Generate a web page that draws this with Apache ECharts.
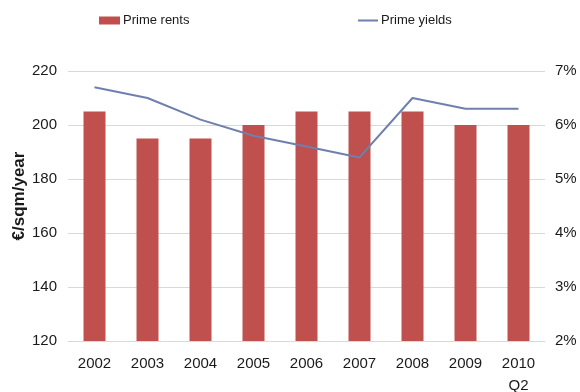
<!DOCTYPE html>
<html>
<head>
<meta charset="utf-8">
<script src="https://cdn.jsdelivr.net/npm/echarts@6/dist/echarts.min.js"></script>
<style>
  html, body { margin: 0; padding: 0; background: #fff; }
  #chart { width: 580px; height: 392px; }
</style>
</head>
<body>
<div id="chart"></div>
<script>
// Years on the category axis (last one is a half-year reading)
const years = ['2002', '2003', '2004', '2005', '2006', '2007', '2008', '2009', '2010\nQ2'];
// Prime rents, €/sqm/year
const primeRents = [205, 195, 195, 200, 205, 205, 205, 200, 200];
// Prime yields, %
const primeYields = [6.7, 6.5, 6.1, 5.8, 5.6, 5.4, 6.5, 6.3, 6.3];

const FONT = 'Liberation Sans, Arial, sans-serif';
const BAR_COLOR = '#c0504d';
const LINE_COLOR = '#6f7fae';
const chart = echarts.init(document.getElementById('chart'), null, { renderer: 'canvas' });

const legendText = { fontFamily: FONT, fontSize: 13, color: '#1a1a1a', padding: [0, 0, 0, -2] };

chart.setOption({
  animation: false,
  backgroundColor: '#ffffff',
  textStyle: { fontFamily: FONT },
  legend: [
    {
      left: 94,
      top: 9,
      itemWidth: 21,
      itemHeight: 8,
      textStyle: legendText,
      data: [{ name: 'Prime rents', icon: 'rect' }]
    },
    {
      left: 353,
      top: 9,
      itemWidth: 20,
      itemHeight: 2,
      textStyle: legendText,
      data: [{ name: 'Prime yields', icon: 'rect', itemStyle: { color: LINE_COLOR } }]
    }
  ],
  grid: { left: 68, right: 35, top: 71, bottom: 51, containLabel: false, outerBoundsMode: 'none' },
  xAxis: {
    type: 'category',
    data: years,
    axisLine: { show: true, lineStyle: { color: '#d9d9d9', width: 1 } },
    axisTick: { show: false },
    axisLabel: {
      color: '#1a1a1a',
      fontFamily: FONT,
      fontSize: 15,
      margin: 12,
      lineHeight: 22
    }
  },
  yAxis: [
    {
      type: 'value',
      min: 120,
      max: 220,
      interval: 20,
      name: '€/sqm/year',
      nameLocation: 'middle',
      nameGap: 40,
      nameMoveOverlap: false,
      nameRotate: 90,
      nameTextStyle: { fontFamily: FONT, fontSize: 17, fontWeight: 'bold', color: '#1a1a1a', padding: [0, 0, 0, 20] },
      axisLine: { show: false },
      axisTick: { show: false },
      splitLine: { show: true, lineStyle: { color: '#d9d9d9', width: 1 } },
      axisLabel: { color: '#1a1a1a', fontFamily: FONT, fontSize: 15, margin: 11 }
    },
    {
      type: 'value',
      min: 2,
      max: 7,
      interval: 1,
      position: 'right',
      axisLine: { show: false },
      axisTick: { show: false },
      splitLine: { show: false },
      axisLabel: { color: '#1a1a1a', fontFamily: FONT, fontSize: 15, margin: 10, formatter: '{value}%' }
    }
  ],
  series: [
    {
      name: 'Prime rents',
      type: 'bar',
      yAxisIndex: 0,
      data: primeRents,
      barWidth: 22,
      itemStyle: { color: BAR_COLOR }
    },
    {
      name: 'Prime yields',
      type: 'line',
      yAxisIndex: 1,
      data: primeYields,
      symbol: 'none',
      lineStyle: { color: LINE_COLOR, width: 2 },
      itemStyle: { color: LINE_COLOR }
    }
  ]
});
</script>
</body>
</html>
